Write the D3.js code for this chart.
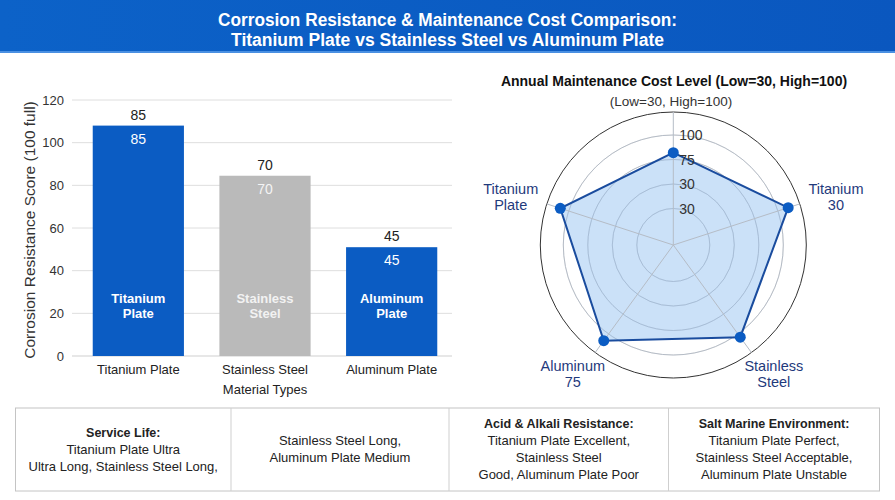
<!DOCTYPE html>
<html>
<head>
<meta charset="utf-8">
<script src="https://cdn.jsdelivr.net/npm/d3@7"></script>
<style>
  html, body { margin: 0; padding: 0; background: #fff; }
  svg { display: block; font-family: "Liberation Sans", Arial, sans-serif; }
</style>
</head>
<body>
<svg id="chart" width="895" height="500"></svg>
<script>
// ---------- DATA ----------
const titleLines = ["Corrosion Resistance & Maintenance Cost Comparison:", "Titanium Plate vs Stainless Steel vs Aluminum Plate"];
const titleWidths = [459, 433];

const barCategories = ["Titanium Plate", "Stainless Steel", "Aluminum Plate"];
const barValues = [108, 84.5, 51];          // drawn bar heights (as pictured)
const barValueLabels = ["85", "70", "45"];   // printed value labels
const barInnerLabels = [["Titanium", "Plate"], ["Stainless", "Steel"], ["Aluminum", "Plate"]];
const barColors = ["#0b5cc3", "#bababa", "#0b5cc3"];
const yTicks = [0, 20, 40, 60, 80, 100, 120];
const yAxisTitle = "Corrosion Resistance Score (100 full)";
const xAxisTitle = "Material Types";

const radarTitle = "Annual Maintenance Cost Level (Low=30, High=100)";
const radarSubtitle = "(Low=30, High=100)";
const radarAxes = [[], ["Titanium", "30"], ["Stainless", "Steel"], ["Aluminum", "75"], ["Titanium", "Plate"]];
const radarValues = [82, 111, 104, 108.5, 109];
const radarRings = [25, 50, 75, 100];
const radarRingLabels = ["30", "30", "75", "100"];

const tableCells = [
  { head: "Service Life:", lines: ["Titanium Plate Ultra", "Ultra Long, Stainless Steel Long,"] },
  { head: null, lines: ["Stainless Steel Long,", "Aluminum Plate Medium"] },
  { head: "Acid & Alkali Resistance:", lines: ["Titanium Plate Excellent,", "Stainless Steel", "Good, Aluminum Plate Poor"] },
  { head: "Salt Marine Environment:", lines: ["Titanium Plate Perfect,", "Stainless Steel Acceptable,", "Aluminum Plate Unstable"] }
];

// ---------- SETUP ----------
const svg = d3.select("#chart");
const defs = svg.append("defs");
const grad = defs.append("linearGradient").attr("id", "bannerGrad").attr("x1", 0).attr("y1", 0).attr("x2", 1).attr("y2", 0);
grad.append("stop").attr("offset", "0%").attr("stop-color", "#0c62c8");
grad.append("stop").attr("offset", "100%").attr("stop-color", "#0a57bf");

// ---------- BANNER ----------
svg.append("rect").attr("x", 0).attr("y", 0).attr("width", 895).attr("height", 52).attr("fill", "url(#bannerGrad)");
svg.append("rect").attr("x", 0).attr("y", 51).attr("width", 895).attr("height", 2).attr("fill", "#4a90e2");
svg.append("g").selectAll("text").data(titleLines).join("text")
  .attr("x", 447.5).attr("y", (d, i) => 26 + i * 20)
  .attr("text-anchor", "middle")
  .attr("fill", "#fff")
  .attr("textLength", (d, i) => titleWidths[i])
  .attr("lengthAdjust", "spacingAndGlyphs")
  .style("font-family", "'Liberation Sans Narrow', 'Arial Narrow', 'Liberation Sans', sans-serif")
  .style("font-weight", "bold").style("font-size", "18px")
  .text(d => d);

// ---------- BAR CHART ----------
const x = d3.scaleBand().domain(barCategories).range([75, 455]).paddingInner(0.28).paddingOuter(0.14);
const y = d3.scaleLinear().domain([0, 120]).range([356, 100]);

const gGrid = svg.append("g");
gGrid.selectAll("line").data(yTicks).join("line")
  .attr("x1", 72).attr("x2", 452)
  .attr("y1", d => y(d)).attr("y2", d => y(d))
  .attr("stroke", d => d === 0 ? "#cfcfcf" : "#dedede").attr("stroke-width", 1);

const yAxis = svg.append("g").attr("transform", "translate(72,0)")
  .call(d3.axisLeft(y).tickValues(yTicks).tickSize(0).tickPadding(8));
yAxis.select(".domain").remove();
yAxis.selectAll("text").style("font-size", "13px").style("font-family", "'Liberation Sans', Arial, sans-serif").attr("fill", "#333");

svg.append("text")
  .attr("transform", "translate(35,230) rotate(-90)")
  .attr("text-anchor", "middle")
  .style("font-size", "15.5px").attr("fill", "#333")
  .text(yAxisTitle);

const xAxis = svg.append("g").attr("transform", "translate(0,356)")
  .call(d3.axisBottom(x).tickSize(0).tickPadding(9));
xAxis.select(".domain").remove();
xAxis.selectAll("text").style("font-size", "13px").style("font-family", "'Liberation Sans', Arial, sans-serif").attr("fill", "#222");

svg.append("text").attr("x", x("Stainless Steel") + x.bandwidth() / 2).attr("y", 394)
  .attr("text-anchor", "middle").style("font-size", "13px").attr("fill", "#222").text(xAxisTitle);

const bars = svg.append("g").selectAll("g").data(barCategories).join("g");
bars.append("rect")
  .attr("x", d => x(d)).attr("width", x.bandwidth())
  .attr("y", (d, i) => y(barValues[i])).attr("height", (d, i) => y(0) - y(barValues[i]))
  .attr("fill", (d, i) => barColors[i]);
bars.append("text")
  .attr("x", d => x(d) + x.bandwidth() / 2).attr("y", (d, i) => y(barValues[i]) - 6)
  .attr("text-anchor", "middle").style("font-size", "14px").attr("fill", "#222")
  .text((d, i) => barValueLabels[i]);
bars.append("text")
  .attr("x", d => x(d) + x.bandwidth() / 2).attr("y", (d, i) => y(barValues[i]) + 18)
  .attr("text-anchor", "middle").style("font-size", "14px")
  .attr("fill", (d, i) => i === 1 ? "#f4f4f4" : "#fff")
  .text((d, i) => barValueLabels[i]);
bars.each(function (d, i) {
  d3.select(this).selectAll("text.inner").data(barInnerLabels[i]).join("text")
    .attr("class", "inner")
    .attr("x", x(d) + x.bandwidth() / 2).attr("y", (t, j) => 303 + j * 15)
    .attr("text-anchor", "middle").style("font-size", "13px").style("font-weight", "bold")
    .attr("fill", i === 1 ? "#f2f2f2" : "#fff")
    .text(t => t);
});

// ---------- RADAR ----------
const cx = 673.3, cy = 245, outerR = 133;
const r = d3.scaleLinear().domain([0, 100]).range([12, 110]);
const angle = i => i * 2 * Math.PI / radarAxes.length;
const gR = svg.append("g").attr("transform", `translate(${cx},${cy})`);

svg.append("text").attr("x", 674).attr("y", 86).attr("text-anchor", "middle")
  .style("font-size", "14px").style("font-weight", "bold").attr("fill", "#111").text(radarTitle);
svg.append("text").attr("x", 671).attr("y", 106).attr("text-anchor", "middle")
  .style("font-size", "13.5px").attr("fill", "#333").text(radarSubtitle);

gR.append("circle").attr("r", outerR).attr("fill", "none").attr("stroke", "#333").attr("stroke-width", 1);
gR.selectAll("circle.ring").data(radarRings).join("circle").attr("class", "ring")
  .attr("r", d => r(d)).attr("fill", "none").attr("stroke", "#c9c9c9").attr("stroke-width", 1);

const pts = radarValues.map((v, i) => [r(v) * Math.sin(angle(i)), -r(v) * Math.cos(angle(i))]);
gR.append("path")
  .attr("d", d3.line().curve(d3.curveLinearClosed)(pts))
  .attr("fill", "#a9cdf3").attr("fill-opacity", 0.6)
  .attr("stroke", "none");

gR.selectAll("circle.ring2").data(radarRings).join("circle").attr("class", "ring2")
  .attr("r", d => r(d)).attr("fill", "none").attr("stroke", "#8fa3bf").attr("stroke-opacity", 0.35).attr("stroke-width", 1);

gR.selectAll("line.spoke").data(radarAxes).join("line").attr("class", "spoke")
  .attr("x1", 0).attr("y1", 0)
  .attr("x2", (d, i) => outerR * Math.sin(angle(i))).attr("y2", (d, i) => -outerR * Math.cos(angle(i)))
  .attr("stroke", "#b5bcc6").attr("stroke-width", 1);

gR.append("path")
  .attr("d", d3.line().curve(d3.curveLinearClosed)(pts))
  .attr("fill", "none").attr("stroke", "#1a4c9e").attr("stroke-width", 2);

gR.selectAll("circle.dot").data(pts).join("circle").attr("class", "dot")
  .attr("cx", d => d[0]).attr("cy", d => d[1]).attr("r", 5.5).attr("fill", "#0b5cc3");

gR.selectAll("text.tick").data(radarRings).join("text").attr("class", "tick")
  .attr("x", 6).attr("y", d => -r(d) + 5)
  .style("font-size", "14px").attr("fill", "#333")
  .text((d, i) => radarRingLabels[i]);

radarAxes.forEach((lines, i) => {
  if (!lines.length) return;
  const a = angle(i);
  const lr = 171;
  const px = lr * Math.sin(a), py = -lr * Math.cos(a);
  const yOff = py < 0 ? 2 : -12;
  gR.append("g").selectAll("text").data(lines).join("text")
    .attr("x", px).attr("y", (t, j) => py + yOff + j * 16)
    .attr("text-anchor", "middle").style("font-size", "14.5px").attr("fill", "#1f3a7c")
    .text(t => t);
});

// ---------- TABLE ----------
const tableTop = 408, tableBottom = 491;
const colEdges = [15.5, 231, 449, 668.5, 879.5];
svg.append("rect").attr("x", colEdges[0]).attr("y", tableTop)
  .attr("width", colEdges[4] - colEdges[0]).attr("height", tableBottom - tableTop)
  .attr("fill", "#fff").attr("stroke", "#c4c4c4").attr("stroke-width", 1);
svg.append("g").selectAll("line").data(colEdges.slice(1, 4)).join("line")
  .attr("x1", d => d).attr("x2", d => d).attr("y1", tableTop).attr("y2", tableBottom)
  .attr("stroke", "#cfcfcf").attr("stroke-width", 1);

tableCells.forEach((c, i) => {
  const mid = (colEdges[i] + colEdges[i + 1]) / 2;
  const rows = (c.head ? [{ t: c.head, b: true }] : []).concat(c.lines.map(t => ({ t, b: false })));
  const lineH = 17;
  const startY = (tableTop + tableBottom) / 2 - (rows.length - 1) * lineH / 2 + 4;
  svg.append("g").selectAll("text").data(rows).join("text")
    .attr("x", mid).attr("y", (d, j) => startY + j * lineH)
    .attr("text-anchor", "middle")
    .style("font-size", d => d.b ? "12.5px" : "13px")
    .style("font-weight", d => d.b ? "bold" : "normal")
    .attr("fill", "#222")
    .text(d => d.t);
});
</script>
</body>
</html>
